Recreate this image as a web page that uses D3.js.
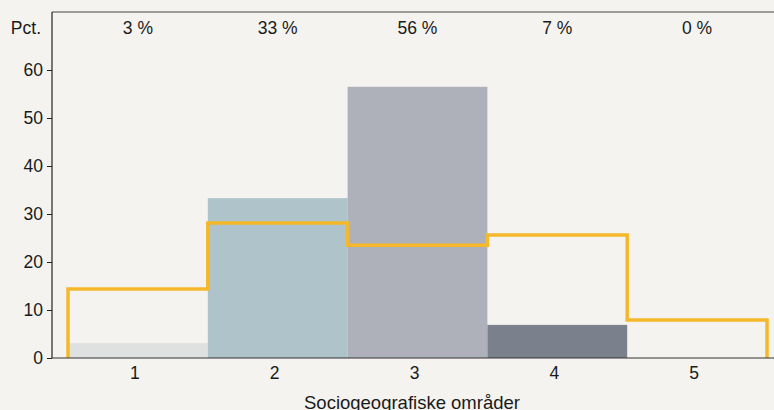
<!DOCTYPE html>
<html>
<head>
<meta charset="utf-8">
<script src="https://cdn.jsdelivr.net/npm/d3@7"></script>
<style>
  html, body { margin: 0; padding: 0; background: #f4f3ef; }
  svg { display: block; font-family: "Liberation Sans", Arial, Helvetica, sans-serif; }
</style>
</head>
<body>
<svg id="chart"></svg>
<script>
// areas 1-5, share of group (bars) vs. step line (all)
const categories = ['1', '2', '3', '4', '5'];
const barValues = [3.1, 33.3, 56.5, 6.9, 0];
const barLabels = ['3 %', '33 %', '56 %', '7 %', '0 %'];
const lineValues = [14.4, 28.1, 23.5, 25.6, 7.9];
const yTicks = [0, 10, 20, 30, 40, 50, 60];
const barColors = ['#dfe1e1', '#afc3ca', '#aeb1ba', '#7b818c', '#7b818c'];

const W = 774, H = 410;
const plotLeft = 52, plotTop = 12, plotBottom = 358;
const fontSize = 17.5;

const svg = d3.select('#chart').attr('width', W).attr('height', H);

const x = d3.scaleBand()
    .domain(categories)
    .range([68, 767])
    .paddingInner(0).paddingOuter(0);

const y = d3.scaleLinear()
    .domain([0, 60])
    .range([plotBottom, 70]);

// bars
svg.selectAll('.bar')
  .data(categories)
  .enter()
  .append('rect')
  .attr('class', 'bar')
  .attr('x', (d) => x(d))
  .attr('width', x.bandwidth())
  .attr('y', (d, i) => y(barValues[i]))
  .attr('height', (d, i) => y(0) - y(barValues[i]))
  .attr('fill', (d, i) => barColors[i]);

// step line
var pts = [[x(categories[0]), 0]];
categories.forEach((c, i) => {
  pts.push([x(c), lineValues[i]]);
  pts.push([x(c) + x.bandwidth(), lineValues[i]]);
});
pts.push([x(categories[categories.length - 1]) + x.bandwidth(), 0]);

const line = d3.line()
    .x((p) => p[0])
    .y((p) => y(p[1]));

svg.append('path')
  .attr('d', line(pts))
  .attr('fill', 'none')
  .attr('stroke', '#f5b82b')
  .attr('stroke-width', 3.5)
  .attr('stroke-linejoin', 'miter');

// frame lines
svg.append('line')
  .attr('x1', plotLeft).attr('x2', W)
  .attr('y1', plotTop).attr('y2', plotTop)
  .attr('stroke', '#444').attr('stroke-width', 1.2);

svg.append('line')
  .attr('x1', plotLeft).attr('x2', W)
  .attr('y1', plotBottom).attr('y2', plotBottom)
  .attr('stroke', '#333').attr('stroke-width', 1.2);

// y axis
const yAxis = d3.axisLeft(y).tickValues(yTicks).tickSize(5).tickPadding(4);
const gy = svg.append('g')
  .attr('transform', 'translate(' + plotLeft + ',0)')
  .call(yAxis);
gy.select('.domain').attr('d', 'M0,' + plotTop + 'V' + plotBottom).attr('stroke', '#222').attr('stroke-width', 1.2);
gy.selectAll('.tick line').attr('stroke', '#222');
gy.selectAll('.tick text')
  .attr('font-size', fontSize)
  .attr('fill', '#1a1a1a')
  .style('font-family', '"Liberation Sans", Arial, sans-serif');

// x axis labels
const xAxis = d3.axisBottom(x).tickSize(0).tickPadding(9);
const gx = svg.append('g')
  .attr('transform', 'translate(-3,' + plotBottom + ')')
  .call(xAxis);
gx.select('.domain').remove();
gx.selectAll('.tick text')
  .attr('font-size', fontSize)
  .attr('fill', '#1a1a1a')
  .style('font-family', '"Liberation Sans", Arial, sans-serif');

// percent labels on top
svg.selectAll('.pct')
  .data(categories)
  .enter()
  .append('text')
  .attr('class', 'pct')
  .attr('x', (d) => x(d) + x.bandwidth() / 2)
  .attr('y', 34)
  .attr('text-anchor', 'middle')
  .attr('font-size', fontSize)
  .attr('fill', '#1a1a1a')
  .text((d, i) => barLabels[i]);

svg.append('text')
  .attr('x', 41)
  .attr('y', 34)
  .attr('text-anchor', 'end')
  .attr('font-size', fontSize)
  .attr('fill', '#1a1a1a')
  .text('Pct.');

svg.append('text')
  .attr('x', 412)
  .attr('y', 409)
  .attr('text-anchor', 'middle')
  .attr('font-size', 18.5)
  .attr('fill', '#1a1a1a')
  .text('Sociogeografiske områder');
</script>
</body>
</html>
